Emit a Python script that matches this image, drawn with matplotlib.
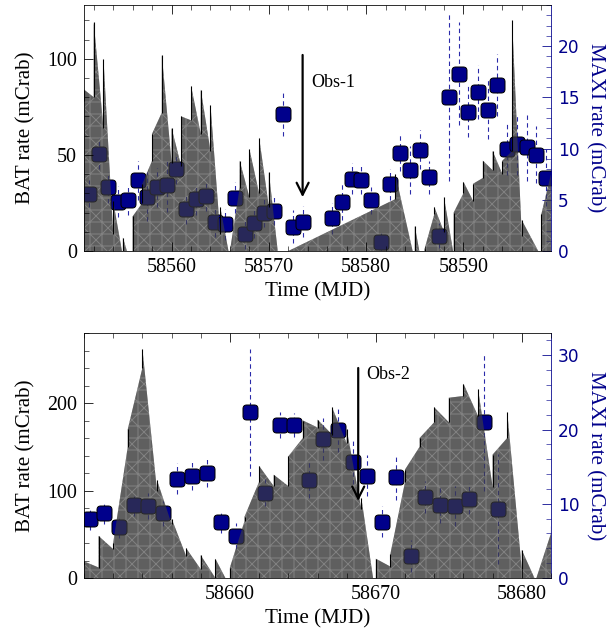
import numpy as np
import matplotlib.pyplot as plt
from matplotlib.patches import BoxStyle
from matplotlib.ticker import MultipleLocator

# ---- window around Obs-1 ----
bat1_day = [58551, 58552, 58553, 58554, 58555, 58556, 58557, 58558, 58559, 58560,
            58561, 58562, 58563, 58564, 58565, 58566, 58567, 58568, 58569, 58570,
            58571, 58572, 58583, 58585, 58586, 58587, 58588, 58589, 58590, 58591,
            58592, 58593, 58594, 58595, 58596, 58598, 58599]
bat1_rate = [81, 99.5, 82, 17.5, 2, 4, 30, 54, 87, 55,
             57, 77, 72.5, 64, 16, -2, 40, 40.5, 44.5, 32,
             -2.5, -2.5, 33.5, 4, -7, 21, 19, 9, 33, 30.5,
             42.5, 47, 43.5, 86, 12, 8, 43.5]
bat1_err = [3, 19.5, 18, 8.5, 5, 14, 5, 7, 15, 9,
            13, 9, 11.5, 12, 7, 2, 7, 12.5, 14.5, 9,
            1.5, 2.5, 6.5, 9, 8, 2, 9, 11, 3, 4.5,
            4.5, 5, 3.5, 34, 4, 11, 3.5]

maxi1_day = [58551.5 + i for i in range(23)] + [58576.5 + i for i in range(23)]
maxi1_rate = [5.6, 9.5, 6.2, 4.8, 4.95, 6.9, 5.3, 6.2, 6.4, 8.0, 4.1, 5.05, 5.4,
              2.85, 2.6, 5.2, 1.7, 2.75, 3.7, 3.9, 13.4, 2.36, 2.85,
              3.2, 4.8, 7.05, 6.95, 4.95, 0.9, 6.5, 9.6, 7.9, 9.9, 7.2, 1.5,
              15.05, 17.3, 13.6, 15.5, 13.8, 16.2, 9.97, 10.4, 10.1, 9.4, 7.15]
maxi1_err = [1.3, 1.5, 1.5, 1.5, 1.4, 1.9, 2.4, 1.9, 2.6, 1.5, 1.5, 1.5, 1.5,
             1.5, 1.5, 1.5, 1.5, 1.5, 1.4, 1.4, 2.15, 1.6, 1.5,
             1.5, 1.8, 1.5, 1.4, 1.3, 1.1, 1.5, 1.8, 2.3, 1.9, 1.6, 1.2,
             8.2, 5.0, 2.5, 2.6, 2.9, 3.0, 2.6, 3.0, 3.3, 2.8, 2.8]

# ---- window around Obs-2 ----
bat2_day = list(range(58650, 58683))
bat2_rate = [17, 30, 36.5, 160, 251, 106, 65, 29.5, 18, 11,
             1, 67.5, 119, 111.5, 122, 170, 176.5, 179.5, 162, 85.5,
             0, 20.5, 117, 155, 186.5, 192, 215, 200.5, 122.5, 175,
             21, -2.5, 55.5]
bat2_err = [2, 18, 3.5, 10, 11, 6, 3, 4.5, 8, 11,
            11, 2.5, 9, 6.5, 17, 10, 4.5, 15.5, 8, 6.5,
            22, 7.5, 7, 5, 8.5, 14, 7, 15.5, 18.5, 15,
            11, 2.5, 4.5]

maxi2_day = [58650.4 + i for i in range(29)]
maxi2_rate = [7.9, 8.8, 6.9, 9.9, 9.7, 8.7, 13.4, 13.8, 14.1, 7.6, 5.65, 22.3,
              11.5, 20.6, 20.6, 13.2, 18.7, 19.9, 15.6, 13.8, 7.6, 13.55, 2.96,
              10.9, 9.8, 9.7, 10.7, 21.0, 9.3]
maxi2_err = [1.5, 1.5, 1.5, 1.6, 1.7, 1.7, 2.1, 1.9, 1.9, 1.6, 1.7, 8.5,
             1.8, 1.8, 1.6, 2.4, 2.8, 2.9, 3.0, 2.8, 2.1, 3.0, 2.1,
             2.1, 2.4, 2.7, 2.1, 9.3, 7.4]

NAVY = '#00008b'
SERIF = 'Liberation Serif'
plt.rcParams['font.family'] = SERIF
plt.rcParams['hatch.linewidth'] = 1.0

# rounded square marker
rsq = BoxStyle.Round(pad=0, rounding_size=0.25)(-0.5, -0.5, 1, 1, 1.0)


def panel(ax, bday, brate, berr, mday, mrate, merr, xlim, ylim, y2lim,
          ymaj, ymin, y2maj, y2min, xticks, obs):
    # three layers: hatched BAT fill, MAXI points, translucent BAT shade
    axh = ax.twinx()
    ax2 = ax.twinx()
    axh.set_zorder(0)
    ax2.set_zorder(1)
    ax.set_zorder(2)
    ax.patch.set_visible(False)
    axh.axis('off')

    bday = np.array(bday, float)
    brate = np.array(brate, float)
    berr = np.array(berr, float)
    xs = np.repeat(bday, 2)
    ys = np.column_stack([brate - berr, brate + berr]).ravel()
    axh.fill_between(xs, ys, 0, facecolor='#9d9d9d', edgecolor='#ffffff',
                     hatch='+x', linewidth=0)
    axh.set_ylim(*ylim)
    ax.fill_between(xs, ys, 0, facecolor='#3e3e3e', linewidth=0, alpha=0.65)
    ax.vlines(bday, brate - berr, brate + berr, color='k', lw=1.1)

    mday = np.array(mday)
    mrate = np.array(mrate)
    merr = np.array(merr)
    ax2.vlines(mday, mrate - merr, mrate + merr, colors='#2a2aaa', lw=1.1,
               linestyles=(0, (4, 3)))
    ax2.plot(mday, mrate, ls='none', marker=rsq, ms=15, mfc=NAVY,
             mec='black', mew=1.0)

    ax.set_xlim(*xlim)
    ax.set_ylim(*ylim)
    ax2.set_ylim(*y2lim)
    ax.set_xticks(xticks)
    ax.xaxis.set_minor_locator(MultipleLocator(2))
    ax.yaxis.set_major_locator(MultipleLocator(ymaj))
    ax.yaxis.set_minor_locator(MultipleLocator(ymin))
    ax2.yaxis.set_major_locator(MultipleLocator(y2maj))
    ax2.yaxis.set_minor_locator(MultipleLocator(y2min))

    ax.tick_params(which='both', direction='in', top=True, right=False,
                   labelsize=20, pad=7)
    ax.tick_params(which='major', length=9)
    ax.tick_params(which='minor', length=5)
    ax.spines['right'].set_visible(False)
    ax2.tick_params(which='both', direction='in', colors=NAVY, labelsize=17, pad=7)
    ax2.tick_params(which='major', length=9)
    ax2.tick_params(which='minor', length=5)
    for lab in ax2.get_yticklabels():
        lab.set_family('DejaVu Sans')
    for s in ['left', 'top', 'bottom']:
        ax2.spines[s].set_visible(False)
    ax2.spines['right'].set_color(NAVY)

    ax.set_xlabel('Time (MJD)', fontsize=21, labelpad=5)
    ax.set_ylabel('BAT rate (mCrab)', fontsize=21, labelpad=12)
    ax2.set_ylabel('MAXI rate (mCrab)', fontsize=21, color=NAVY, rotation=270,
                   labelpad=25)

    label, x, ytop, ytip, tx, ty = obs
    ax.annotate('', xy=(x, ytip), xytext=(x, ytop),
                arrowprops=dict(arrowstyle='->', lw=2.2, color='k',
                                mutation_scale=30, shrinkA=0, shrinkB=0))
    ax.text(tx, ty, label, fontsize=18, va='center', ha='left')


fig = plt.figure(figsize=(614 / 72, 641 / 72), dpi=72)
ax_top = fig.add_axes([84 / 614, 1 - 251 / 641, 467 / 614, 246 / 641])
ax_bot = fig.add_axes([84 / 614, 1 - 578 / 641, 467 / 614, 245 / 641])

panel(ax_top, bat1_day, bat1_rate, bat1_err, maxi1_day, maxi1_rate, maxi1_err,
      (58551, 58599), (0, 128), (0, 24), 50, 10, 5, 1,
      [58560, 58570, 58580, 58590],
      ('Obs-1', 58573.47, 102, 28, 58574.4, 87.5))
panel(ax_bot, bat2_day, bat2_rate, bat2_err, maxi2_day, maxi2_rate, maxi2_err,
      (58650, 58682), (0, 280), (0, 33), 100, 20, 10, 2,
      [58660, 58670, 58680],
      ('Obs-2', 58668.79, 240, 88, 58669.36, 233))

fig.savefig('out.png', dpi=72)
